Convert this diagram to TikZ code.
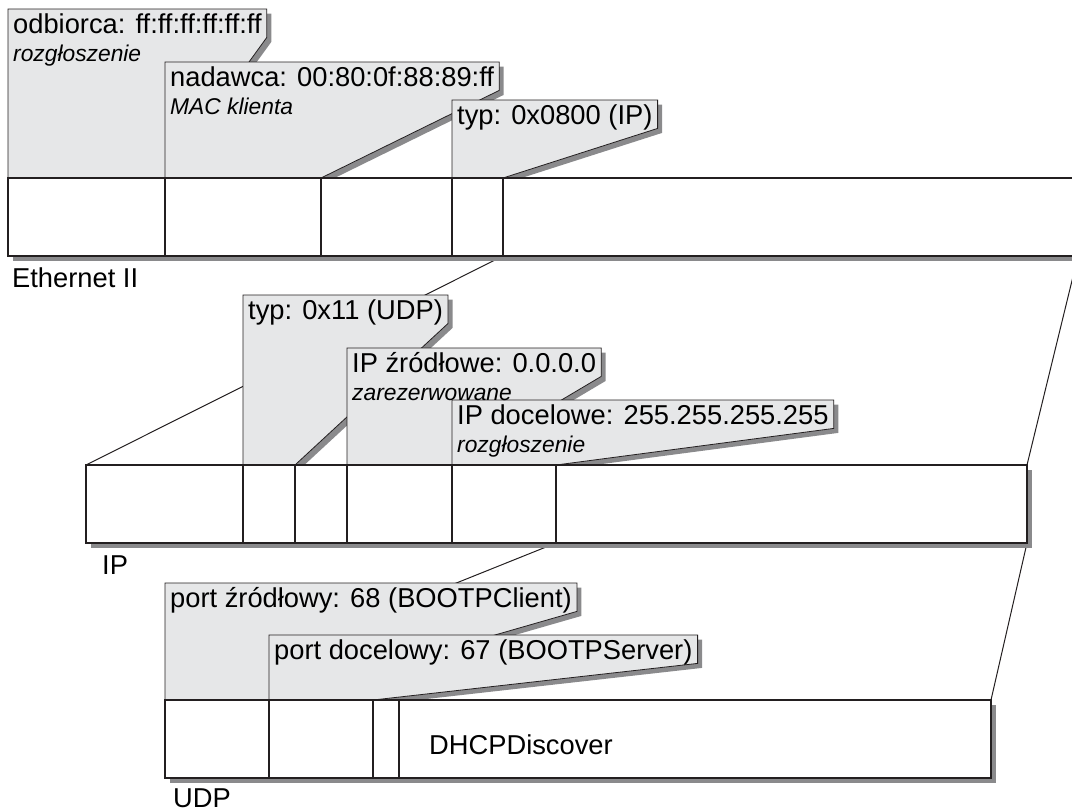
\documentclass[tikz,border=0pt]{standalone}
\usepackage{fontspec}
\setmainfont{Liberation Sans}
\usepackage{xcolor}
\usepackage{tikz}
\usetikzlibrary{positioning,fit,backgrounds,shadows}
\definecolor{pktLine}{HTML}{231F20}
\definecolor{pktFill}{HTML}{E6E7E8}
\definecolor{pktShadow}{HTML}{8A8A8C}
\pgfdeclarelayer{links}
\pgfsetlayers{links,background,main}
\tikzset{
  fld/.style={draw=pktLine, fill=white, line width=1.4pt, minimum height=78pt,
        inner sep=0pt, outer sep=0pt, anchor=north west},
  frm/.style={fill=white, inner sep=0pt,
        drop shadow={shadow xshift=4.5pt, shadow yshift=-4.5pt, fill=pktShadow, opacity=1}},
  head/.style={anchor=north west, inner xsep=5pt, inner ysep=2pt,
        text height=22pt, text depth=2pt, font=\fontsize{27.3}{32}\selectfont},
  sub/.style={inner xsep=5pt, inner ysep=7pt, text height=17pt, text depth=5pt,
        font=\fontsize{22.8}{26}\selectfont\itshape},
  callout/.style={draw=pktLine, fill=pktFill, line width=0.8pt,
        drop shadow={shadow xshift=4.5pt, shadow yshift=-4.5pt, fill=pktShadow, opacity=1}},
  link/.style={draw=pktLine, line width=1pt},
  layer/.style={font=\fontsize{27.3}{32}\selectfont, inner sep=0pt, anchor=base west}
}
\begin{document}
\begin{tikzpicture}[x=1pt, y=-1pt]
\useasboundingbox (0,0) rectangle (1072,812);

% Ethernet II frame
\node[fld, minimum width=157] (e1) at (8,178) {};
\node[fld, minimum width=156, right=0pt of e1] (e2) {};
\node[fld, minimum width=131, right=0pt of e2] (e3) {};
\node[fld, minimum width=51,  right=0pt of e3] (e4) {};
\node[fld, minimum width=575, right=0pt of e4] (e5) {};
\begin{scope}[on background layer]
\node[frm, fit=(e1)(e5)] (eth) {};
\end{scope}
\node[layer] (lEth) at (12,287) {Ethernet II};

\node[head] (h1) at (8,9) {odbiorca: ff:ff:ff:ff:ff:ff};
\node[sub, below right=0pt and 0pt of h1.south west] (s1) {rozgłoszenie};
\node[head] (h2) at (165,62) {nadawca: 00:80:0f:88:89:ff};
\node[sub, below right=0pt and 0pt of h2.south west] (s2) {MAC klienta};
\node[head] (h3) at (452,100) {typ: 0x0800 (IP)};
\begin{scope}[on background layer]
\path[callout] (e1.north west) |- (h1.north east) -- (h1.south east) -- (e1.north east) -- cycle;
\path[callout] (e2.north west) |- (h2.north east) -- (h2.south east) -- (e2.north east) -- cycle;
\path[callout] (e4.north west) |- (h3.north east) -- (h3.south east) -- (e4.north east) -- cycle;
\end{scope}

% IP packet
\node[fld, minimum width=157] (i1) at (86,465) {};
\node[fld, minimum width=52,  right=0pt of i1] (i2) {};
\node[fld, minimum width=52,  right=0pt of i2] (i3) {};
\node[fld, minimum width=105, right=0pt of i3] (i4) {};
\node[fld, minimum width=104, right=0pt of i4] (i5) {};
\node[fld, minimum width=471, right=0pt of i5] (i6) {};
\begin{scope}[on background layer]
\node[frm, fit=(i1)(i6)] (ip) {};
\end{scope}
\node[layer] (lIp) at (102,574) {IP};

\node[head] (h4) at (243,295) {typ: 0x11 (UDP)};
\node[head] (h5) at (347,348) {IP źródłowe: 0.0.0.0};
\node[sub, below right=0pt and 0pt of h5.south west] (s5) {zarezerwowane};
\node[head] (h6) at (452,400) {IP docelowe: 255.255.255.255};
\node[sub, below right=0pt and 0pt of h6.south west] (s6) {rozgłoszenie};
\begin{scope}[on background layer]
\path[callout] (i2.north west) |- (h4.north east) -- (h4.south east) -- (i2.north east) -- cycle;
\path[callout] (i4.north west) |- (h5.north east) -- (h5.south east) -- (i4.north east) -- cycle;
\path[callout] (i5.north west) |- (h6.north east) -- (h6.south east) -- (i5.north east) -- cycle;
\end{scope}

% UDP datagram
\node[fld, minimum width=104] (u1) at (165,700) {};
\node[fld, minimum width=104, right=0pt of u1] (u2) {};
\node[fld, minimum width=26,  right=0pt of u2] (u3) {};
\node[fld, minimum width=592, right=0pt of u3] (u4) {};
\begin{scope}[on background layer]
\node[frm, fit=(u1)(u4)] (udp) {};
\end{scope}
\node[layer, xshift=30pt, yshift=-15pt] (dhcp) at (u4.west) {DHCPDiscover};
\node[layer] (lUdp) at (173,807) {UDP};

\node[head] (h7) at (165,583) {port źródłowy: 68 (BOOTPClient)};
\node[head] (h8) at (269,635) {port docelowy: 67 (BOOTPServer)};
\begin{scope}[on background layer]
\path[callout] (u1.north west) |- (h7.north east) -- (h7.south east) -- (u1.north east) -- cycle;
\path[callout] (u2.north west) |- (h8.north east) -- (h8.south east) -- (u2.north east) -- cycle;
\end{scope}

% encapsulation lines
\begin{pgfonlayer}{links}
\draw[link] (e4.south east) -- (i1.north west);
\draw[link] (e5.south east) -- (i6.north east);
\draw[link] (i5.south east) -- (u1.north west);
\draw[link] (i6.south east) -- (u4.north east);
\end{pgfonlayer}
\end{tikzpicture}
\end{document}
